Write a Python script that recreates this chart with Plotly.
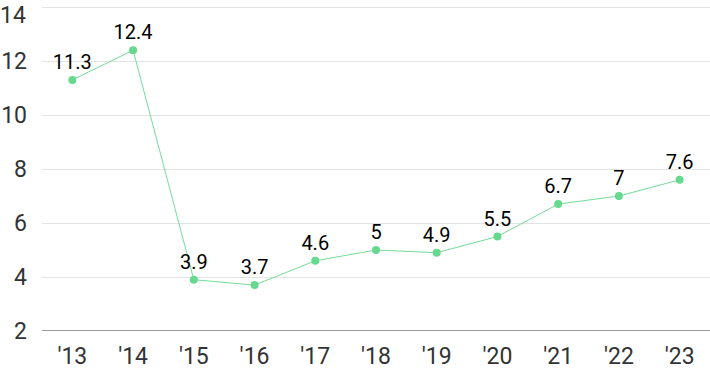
import plotly.graph_objects as go

years = ["'13", "'14", "'15", "'16", "'17", "'18", "'19", "'20", "'21", "'22", "'23"]
values = [11.3, 12.4, 3.9, 3.7, 4.6, 5, 4.9, 5.5, 6.7, 7, 7.6]
labels = ["11.3", "12.4", "3.9", "3.7", "4.6", "5", "4.9", "5.5", "6.7", "7", "7.6"]
y_ticks = [2, 4, 6, 8, 10, 12, 14]

fig = go.Figure(go.Scatter(
    x=years, y=values, mode="lines+markers+text",
    text=labels, textposition="top center",
    textfont=dict(family="Roboto, sans-serif", size=20, color="#000"),
    line=dict(color="#74dc98", width=1),
    marker=dict(color="#66d98e", size=8),
    cliponaxis=False,
))

fig.update_layout(
    width=710, height=371,
    margin=dict(l=42, r=0, t=0, b=40, autoexpand=False),
    plot_bgcolor="white", paper_bgcolor="white",
    showlegend=False,
    font=dict(family="Roboto, sans-serif"),
)
fig.update_xaxes(
    type="category", range=[-0.5, 10.5], showgrid=False, automargin=False,
    tickfont=dict(size=23, color="#333"), ticks="", ticklabelstandoff=9,
    showline=False, zeroline=False,
)
fig.update_yaxes(
    range=[2, 14.26], tickvals=y_ticks, showgrid=True, gridcolor="#e3e3e3", gridwidth=1,
    automargin=False,
    tickfont=dict(size=23, color="#333"), ticks="", ticklabelstandoff=14,
    showline=False, zeroline=False,
)
# top tick label (plotly hides it at the paper edge), drawn as text at the top edge
top_tick = y_ticks[-1]
fig.add_annotation(
    xref="paper", yref="paper", x=0, y=1, text=str(top_tick), showarrow=False,
    xanchor="right", yanchor="top", xshift=-14, yshift=0,
    font=dict(family="Roboto, sans-serif", size=23, color="#333"),
)
fig.add_shape(type="line", xref="paper", yref="y", x0=0, x1=1, y0=2, y1=2,
              line=dict(color="#333", width=1))

fig.write_html("out.html", config={"displayModeBar": False},
               post_script="document.body.style.margin='0';document.body.style.overflow='hidden';")
